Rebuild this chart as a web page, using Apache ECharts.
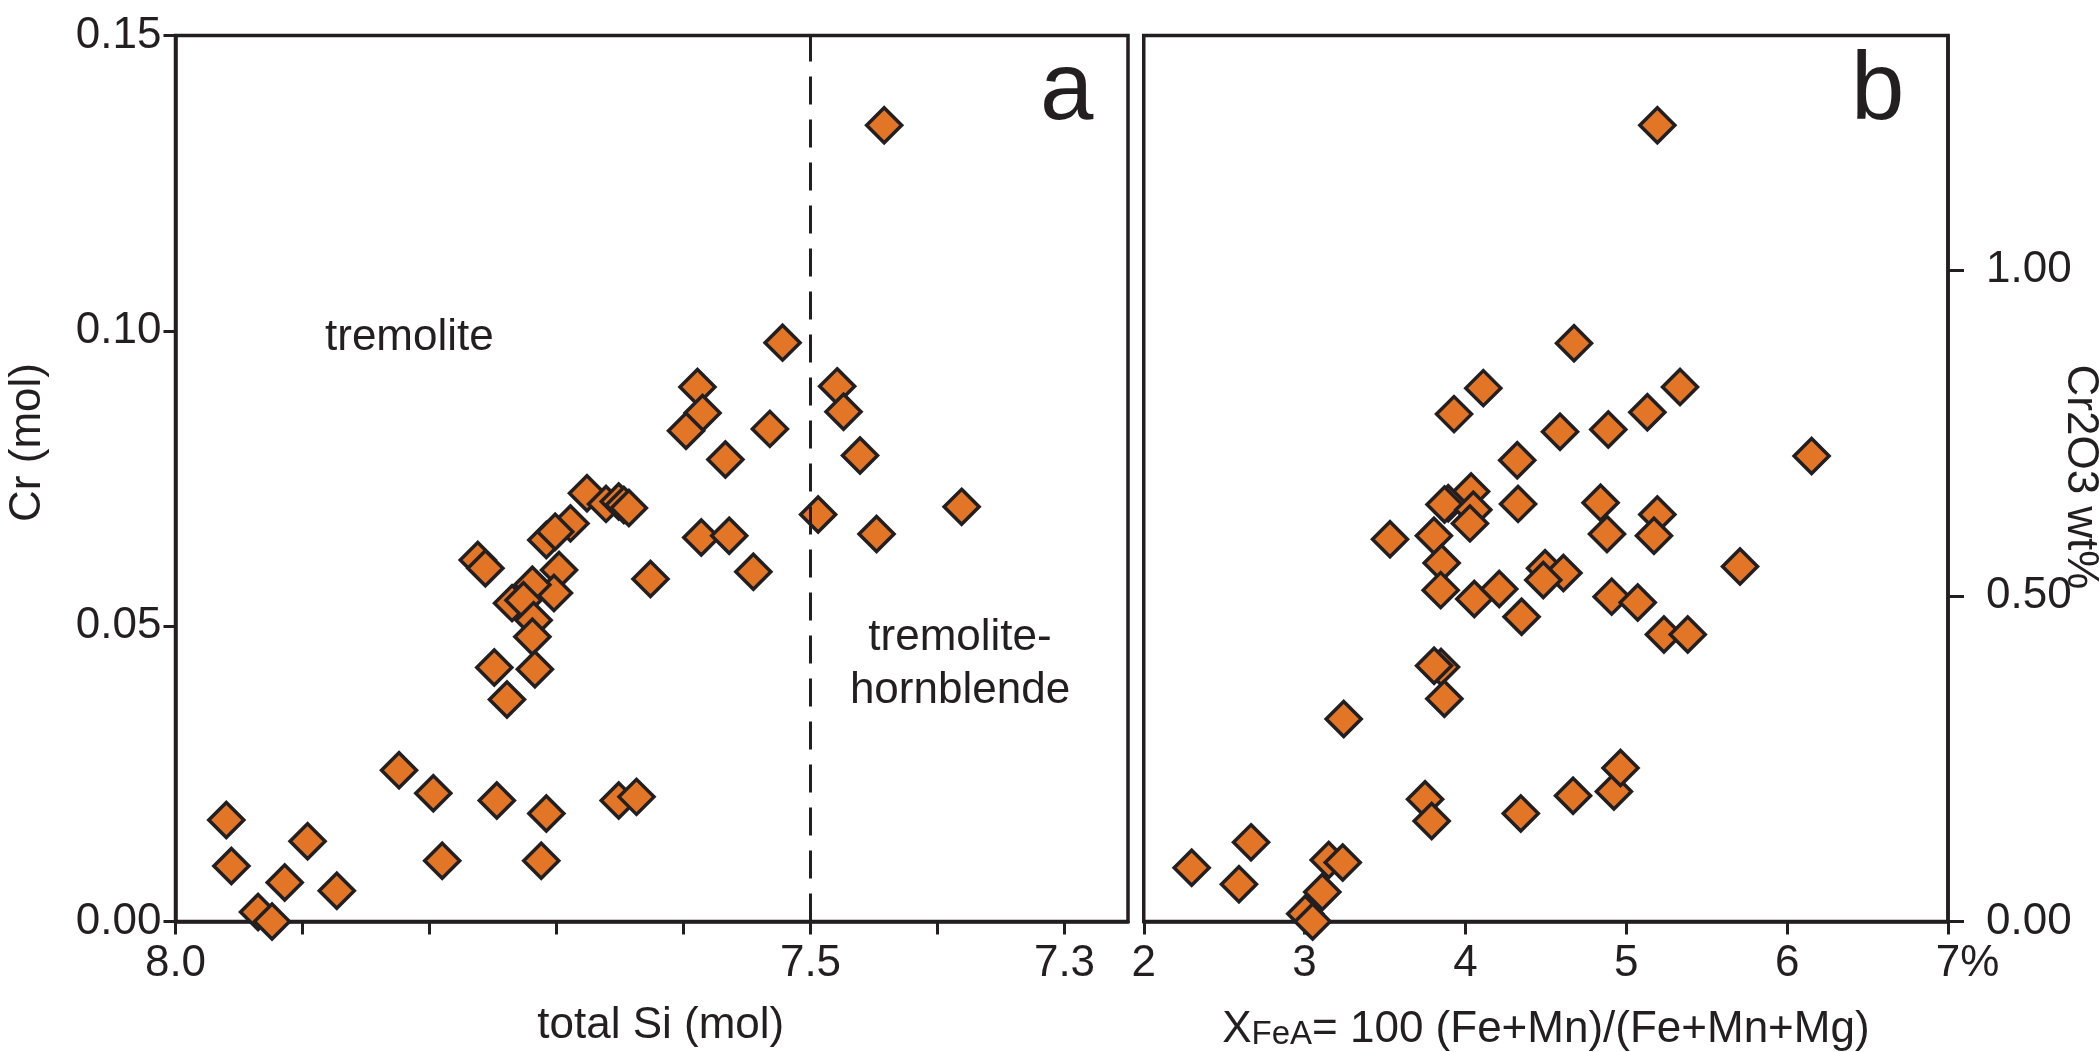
<!DOCTYPE html>
<html>
<head>
<meta charset="utf-8">
<script src="https://cdn.jsdelivr.net/npm/echarts@6/dist/echarts.min.js"></script>
<style>
html,body{margin:0;padding:0;background:#fff;}
#chart{width:2099px;height:1052px;}
</style>
</head>
<body>
<div id="chart"></div>
<script>
// Panel a: total Si (mol) vs Cr (mol)
const siA = [7.442,7.522,7.589,7.585,7.598,7.532,7.567,7.479,7.474,7.461,7.494,7.448,7.381,7.586,7.564,7.545,7.626,7.676,7.661,7.651,7.647,7.643,7.689,7.708,7.701,7.698,7.702,7.719,7.735,7.726,7.718,7.719,7.762,7.756,7.749,7.717,7.739,7.824,7.797,7.747,7.708,7.790,7.712,7.651,7.637,7.960,7.956,7.896,7.914,7.873,7.935,7.924];
const crA = [0.1348,0.0980,0.0905,0.0861,0.0831,0.0834,0.0782,0.0906,0.0863,0.0789,0.0689,0.0656,0.0702,0.0650,0.0653,0.0592,0.0580,0.0725,0.0707,0.0711,0.0705,0.0700,0.0674,0.0646,0.0660,0.0595,0.0556,0.0570,0.0539,0.0544,0.0510,0.0482,0.0612,0.0598,0.0430,0.0427,0.0376,0.0256,0.0217,0.0205,0.0183,0.0103,0.0103,0.0205,0.0211,0.0172,0.0094,0.0136,0.0066,0.0052,0.0016,0.0000];
// Panel b: XFeA (%) vs Cr (mol), right axis in Cr2O3 wt%
const xfeB = [5.193,4.675,4.111,5.334,3.929,5.131,4.588,4.888,4.322,6.152,4.035,3.893,3.870,4.049,4.028,4.327,4.840,5.193,5.172,4.880,3.531,3.804,3.852,3.846,4.055,4.210,4.495,4.609,4.484,4.909,5.071,4.349,5.234,5.382,5.707,3.848,3.805,3.869,3.243,3.749,3.790,4.344,4.669,4.923,4.964,2.298,2.667,2.592,3.150,3.237,3.110,3.004,3.050];
const crB = [0.1348,0.0979,0.0903,0.0905,0.0859,0.0862,0.0829,0.0833,0.0781,0.0788,0.0728,0.0708,0.0706,0.0697,0.0674,0.0707,0.0709,0.0689,0.0653,0.0656,0.0647,0.0653,0.0607,0.0561,0.0546,0.0563,0.0598,0.0590,0.0578,0.0550,0.0540,0.0516,0.0486,0.0486,0.0601,0.0431,0.0433,0.0377,0.0343,0.0207,0.0170,0.0183,0.0213,0.0220,0.0260,0.0091,0.0134,0.0063,0.0104,0.0100,0.0050,0.0013,0.0000];

const siTicks = [8.0,7.9,7.8,7.7,7.6,7.5,7.4,7.3];
const siLabels = [8.0,7.5,7.3];
const crTicks = [0,0.05,0.10,0.15];
const xfeTicks = [2,3,4,5,6,7];
const wtTicks = [0,0.5,1.0];

const INK = '#231f20';
const ORANGE = '#e27626';
const FONT = '"Liberation Sans", Arial, Helvetica, sans-serif';
const FS = 44;

const chart = echarts.init(document.getElementById('chart'));

const baseText = {color: INK, fontFamily: FONT, fontSize: FS};
const axLine = {show: true, lineStyle: {color: INK, width: 3.5}};

const option = {
  backgroundColor: '#fff',
  animation: false,
  textStyle: {fontFamily: FONT, color: INK},
  grid: [
    {left: 175.5, top: 35.5, width: 952.5, height: 886, show: true, borderColor: INK, borderWidth: 3.5, containLabel: false, outerBoundsMode: 'none'},
    {left: 1143.75, top: 35.5, width: 804.25, height: 886, show: true, borderColor: INK, borderWidth: 3.5, containLabel: false, outerBoundsMode: 'none'}
  ],
  xAxis: [
    {
      gridIndex: 0, type: 'value', min: 7.25, max: 8.0, inverse: true,
      axisLine: axLine,
      axisTick: {show: true, customValues: siTicks, length: 13, lineStyle: {color: INK, width: 3}},
      axisLabel: Object.assign({customValues: siLabels, margin: 20, formatter: v => Number(v).toFixed(1)}, baseText),
      splitLine: {show: false},
      name: 'total Si (mol)', nameLocation: 'middle', nameGap: 82,
      nameTextStyle: Object.assign({padding: [0, 0, 0, 18]}, baseText)
    },
    {
      gridIndex: 1, type: 'value', min: 2, max: 7,
      axisLine: axLine,
      axisTick: {show: true, customValues: xfeTicks, length: 13, lineStyle: {color: INK, width: 3}},
      axisLabel: Object.assign({
        customValues: xfeTicks, margin: 20,
        formatter: v => (v === 7 ? '{sp| }7%' : String(v)),
        rich: {sp: {width: 39, fontSize: FS, fontFamily: FONT}}
      }, baseText),
      splitLine: {show: false},
      name: '{m|X}{s|FeA}{m|= 100 (Fe+Mn)/(Fe+Mn+Mg)}', nameLocation: 'middle', nameGap: 80,
      nameTextStyle: Object.assign({
        rich: {
          m: {fontSize: FS, fontFamily: FONT, color: INK, lineHeight: 50, verticalAlign: 'bottom'},
          s: {fontSize: 33, fontFamily: FONT, color: INK, lineHeight: 33, verticalAlign: 'bottom'}
        }
      }, baseText)
    }
  ],
  yAxis: [
    {
      gridIndex: 0, type: 'value', min: 0, max: 0.15,
      axisLine: axLine,
      axisTick: {show: true, customValues: crTicks, length: 12, lineStyle: {color: INK, width: 3}},
      axisLabel: Object.assign({customValues: crTicks, margin: 14, formatter: v => Number(v).toFixed(2)}, baseText),
      splitLine: {show: false},
      name: 'Cr (mol)', nameLocation: 'middle', nameGap: 126, nameRotate: 90,
      nameTextStyle: Object.assign({padding: [0, 0, 0, 72]}, baseText)
    },
    {
      gridIndex: 1, type: 'value', min: 0, max: 0.15, show: false,
      splitLine: {show: false}
    },
    {
      gridIndex: 1, type: 'value', min: 0, max: 1.36, position: 'right',
      axisLine: axLine,
      axisTick: {show: true, customValues: wtTicks, length: 16, lineStyle: {color: INK, width: 3}},
      axisLabel: Object.assign({customValues: wtTicks, margin: 38, formatter: v => Number(v).toFixed(2)}, baseText),
      splitLine: {show: false}
    }
  ],
  series: [
    {
      type: 'scatter', xAxisIndex: 0, yAxisIndex: 0,
      data: siA.map((x, i) => [x, crA[i]]),
      symbol: 'diamond', symbolSize: 35, clip: false,
      itemStyle: {color: ORANGE, borderColor: INK, borderWidth: 3.5, opacity: 1},
      emphasis: {disabled: true},
      markLine: {
        silent: true, symbol: ['none', 'none'], label: {show: false},
        lineStyle: {color: INK, width: 3, type: [28, 15]},
        data: [{xAxis: 7.5}]
      }
    },
    {
      type: 'scatter', xAxisIndex: 1, yAxisIndex: 1,
      data: xfeB.map((x, i) => [x, crB[i]]),
      symbol: 'diamond', symbolSize: 35, clip: false,
      itemStyle: {color: ORANGE, borderColor: INK, borderWidth: 3.5, opacity: 1},
      emphasis: {disabled: true}
    }
  ],
  graphic: [
    {type: 'text', left: 325, top: 316, style: {text: 'tremolite', fill: INK, font: FS + 'px ' + FONT}},
    {type: 'text', x: 960, y: 611, style: {text: 'tremolite-\nhornblende', fill: INK, font: FS + 'px ' + FONT, align: 'center', verticalAlign: 'top', lineHeight: 53.5}},
    {type: 'text', left: 1040, top: 45, style: {text: 'a', fill: INK, font: '96px ' + FONT}},
    {type: 'text', left: 1851, top: 45, style: {text: 'b', fill: INK, font: '96px ' + FONT}},
    {type: 'text', x: 2080, y: 477, rotation: -Math.PI / 2, style: {text: 'Cr2O3 wt%', fill: INK, font: FS + 'px ' + FONT, align: 'center', verticalAlign: 'middle'}}
  ]
};

chart.setOption(option);
</script>
</body>
</html>
